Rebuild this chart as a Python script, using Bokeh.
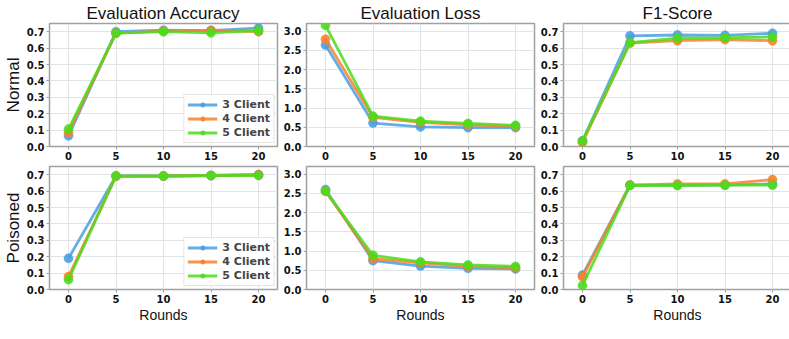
from bokeh.plotting import figure
from bokeh.layouts import column, row
from bokeh.models import Range1d, FixedTicker, PrintfTickFormatter
from bokeh.embed import file_html
from bokeh.resources import INLINE

rounds = [0, 5, 10, 15, 20]
clients = ["3 Client", "4 Client", "5 Client"]
colors = ["#4a9fe3", "#fb7f2c", "#4bdc1e"]

# Normal
normal_acc_3 = [0.065, 0.700, 0.709, 0.707, 0.722]
normal_acc_4 = [0.084, 0.691, 0.704, 0.708, 0.700]
normal_acc_5 = [0.106, 0.691, 0.700, 0.693, 0.707]

normal_loss_3 = [2.64, 0.61, 0.51, 0.49, 0.49]
normal_loss_4 = [2.79, 0.76, 0.63, 0.56, 0.52]
normal_loss_5 = [3.15, 0.79, 0.66, 0.60, 0.55]

normal_f1_3 = [0.035, 0.675, 0.680, 0.678, 0.690]
normal_f1_4 = [0.025, 0.630, 0.645, 0.652, 0.645]
normal_f1_5 = [0.034, 0.634, 0.660, 0.663, 0.668]

# Poisoned
pois_acc_3 = [0.190, 0.692, 0.692, 0.695, 0.700]
pois_acc_4 = [0.079, 0.690, 0.692, 0.695, 0.700]
pois_acc_5 = [0.060, 0.693, 0.692, 0.695, 0.695]

pois_loss_3 = [2.60, 0.75, 0.61, 0.55, 0.535]
pois_loss_4 = [2.555, 0.80, 0.69, 0.60, 0.565]
pois_loss_5 = [2.56, 0.89, 0.72, 0.64, 0.60]

pois_f1_3 = [0.088, 0.637, 0.636, 0.637, 0.644]
pois_f1_4 = [0.077, 0.637, 0.644, 0.644, 0.670]
pois_f1_5 = [0.025, 0.634, 0.634, 0.636, 0.636]

x_ticks = [0, 5, 10, 15, 20]
score_ticks = [0.0, 0.1, 0.2, 0.3, 0.4, 0.5, 0.6, 0.7]
loss_ticks = [0.0, 0.5, 1.0, 1.5, 2.0, 2.5, 3.0]

TICK_FONT = "DejaVu Sans"
LABEL_FONT = "Liberation Sans"

FW = 228
FH = 123


def make_fig(series, ymax, yticks, title=None, ylabel=None, xlabel=None,
             legend=False, first_col=False, top_row=True):
    kw = dict(frame_width=FW, frame_height=FH, output_backend="svg",
              toolbar_location=None, x_range=Range1d(-2, 22),
              y_range=Range1d(0, ymax), min_border_left=22 if not first_col else 0,
              min_border_right=3, min_border_top=4 if not top_row else 0,
              min_border_bottom=0, background_fill_color="white")
    if title:
        kw["title"] = title
    p = figure(**kw)
    if title:
        p.title.text_font = LABEL_FONT
        p.title.text_font_size = "17px"
        p.title.text_font_style = "normal"
        p.title.text_color = "#111111"
        p.title.align = "center"
        p.title.standoff = 2
        p.title.offset = 0
    p.outline_line_color = "#a0a0a0"
    p.outline_line_width = 1.5
    for ax in (p.xaxis[0], p.yaxis[0]):
        ax.major_label_text_font = TICK_FONT
        ax.major_label_text_font_size = "10px"
        ax.major_label_text_font_style = "bold"
        ax.major_label_text_color = "#111111"
        ax.axis_line_color = None
        ax.major_tick_line_color = "#a0a0a0"
        ax.major_tick_in = 0
        ax.major_tick_out = 3
        ax.minor_tick_line_color = None
        ax.major_label_standoff = 2
        ax.axis_label_standoff = 1
        ax.axis_label_text_font = LABEL_FONT
        ax.axis_label_text_font_style = "normal"
        ax.axis_label_text_color = "#111111"
    p.xaxis.ticker = FixedTicker(ticks=x_ticks)
    p.yaxis.ticker = FixedTicker(ticks=yticks)
    p.yaxis.formatter = PrintfTickFormatter(format="%.1f")
    if ylabel:
        p.yaxis.axis_label = ylabel
        p.yaxis.axis_label_text_font_size = "17px"
    if xlabel:
        p.xaxis.axis_label = xlabel
        p.xaxis.axis_label_text_font_size = "14px"
    p.grid.grid_line_color = "#dfe5e5"
    p.grid.grid_line_width = 1
    for vals, c, name in zip(series, colors, clients):
        if legend:
            p.line(rounds, vals, line_color=c, line_width=2.8, line_alpha=0.85, legend_label=name)
            p.scatter(rounds, vals, size=9, fill_color=c, line_color=c, fill_alpha=0.9,
                      line_alpha=0.5, legend_label=name)
        else:
            p.line(rounds, vals, line_color=c, line_width=2.8, line_alpha=0.85)
            p.scatter(rounds, vals, size=9, fill_color=c, line_color=c, fill_alpha=0.9,
                      line_alpha=0.5)
    if legend:
        lg = p.legend[0]
        lg.location = "bottom_right"
        lg.label_text_font = TICK_FONT
        lg.label_text_font_style = "bold"
        lg.label_text_font_size = "11px"
        lg.label_height = 11
        lg.glyph_height = 11
        lg.glyph_width = 30
        lg.spacing = 1
        lg.padding = 3
        lg.margin = 3
        lg.label_standoff = 5
        lg.border_line_color = "#cccccc"
        lg.border_line_width = 1
        lg.background_fill_alpha = 0.9
    return p


p1 = make_fig([normal_acc_3, normal_acc_4, normal_acc_5], 0.75, score_ticks,
              title="Evaluation Accuracy", ylabel="Normal", legend=True, first_col=True)
p2 = make_fig([normal_loss_3, normal_loss_4, normal_loss_5], 3.2, loss_ticks,
              title="Evaluation Loss")
p3 = make_fig([normal_f1_3, normal_f1_4, normal_f1_5], 0.75, score_ticks,
              title="F1-Score")
p4 = make_fig([pois_acc_3, pois_acc_4, pois_acc_5], 0.75, score_ticks,
              ylabel="Poisoned", xlabel="Rounds", legend=True, first_col=True, top_row=False)
p5 = make_fig([pois_loss_3, pois_loss_4, pois_loss_5], 3.2, loss_ticks,
              xlabel="Rounds", top_row=False)
p6 = make_fig([pois_f1_3, pois_f1_4, pois_f1_5], 0.75, score_ticks,
              xlabel="Rounds", top_row=False)

layout = column(row(p1, p2, p3, spacing=0), row(p4, p5, p6, spacing=0), spacing=0)

open("out.html", "w").write(file_html(layout, INLINE))
